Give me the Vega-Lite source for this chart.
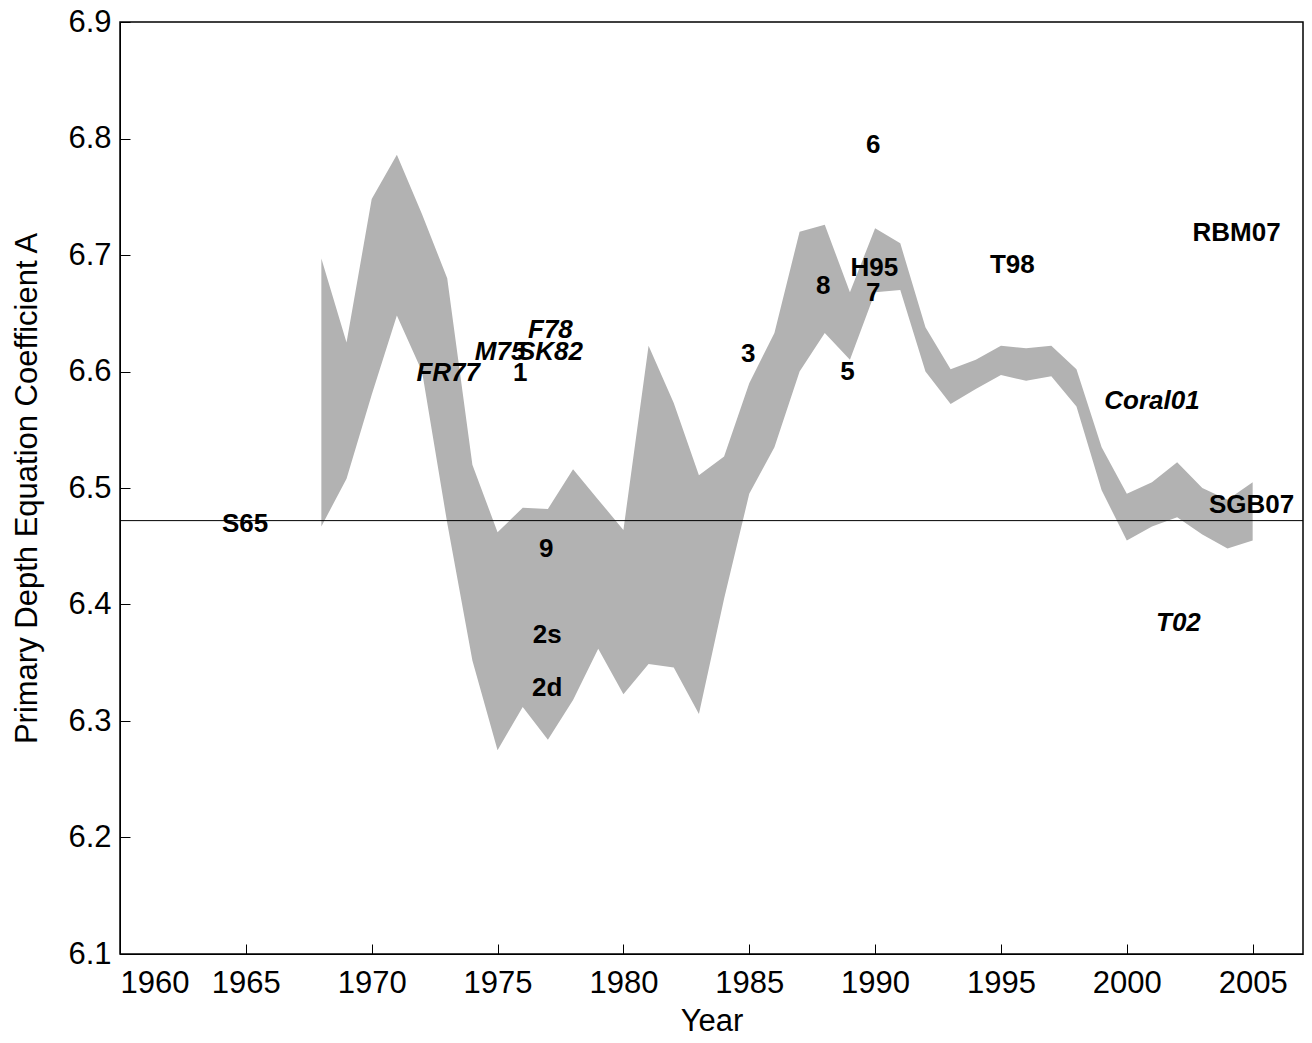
{
  "$schema": "https://vega.github.io/schema/vega-lite/v6.json",
  "width": 1183,
  "height": 932,
  "autosize": "none",
  "padding": {"left": 120, "top": 22, "right": 9, "bottom": 89},
  "config": {
    "view": {"stroke": "black", "strokeWidth": 1.5},
    "font": "Liberation Sans",
    "axis": {"grid": false, "domainColor": "black", "tickColor": "black", "labelColor": "black", "titleColor": "black", "labelFontSize": 31, "titleFontSize": 31, "titleFontWeight": "normal", "labelFont": "Liberation Sans", "titleFont": "Liberation Sans"}
  },
  "datasets": {
    "band": [
      {"year": 1968, "lo": 6.467, "hi": 6.697},
      {"year": 1969, "lo": 6.508, "hi": 6.625},
      {"year": 1970, "lo": 6.58, "hi": 6.748},
      {"year": 1971, "lo": 6.648, "hi": 6.786},
      {"year": 1972, "lo": 6.6, "hi": 6.735},
      {"year": 1973, "lo": 6.47, "hi": 6.68},
      {"year": 1974, "lo": 6.352, "hi": 6.52},
      {"year": 1975, "lo": 6.275, "hi": 6.462},
      {"year": 1976, "lo": 6.312, "hi": 6.483},
      {"year": 1977, "lo": 6.284, "hi": 6.482},
      {"year": 1978, "lo": 6.318, "hi": 6.516},
      {"year": 1979, "lo": 6.362, "hi": 6.49},
      {"year": 1980, "lo": 6.323, "hi": 6.464},
      {"year": 1981, "lo": 6.349, "hi": 6.622},
      {"year": 1982, "lo": 6.346, "hi": 6.573},
      {"year": 1983, "lo": 6.306, "hi": 6.511},
      {"year": 1984, "lo": 6.405, "hi": 6.527},
      {"year": 1985, "lo": 6.495, "hi": 6.59},
      {"year": 1986, "lo": 6.535, "hi": 6.633},
      {"year": 1987, "lo": 6.6, "hi": 6.72},
      {"year": 1988, "lo": 6.633, "hi": 6.726},
      {"year": 1989, "lo": 6.61, "hi": 6.668},
      {"year": 1990, "lo": 6.668, "hi": 6.723},
      {"year": 1991, "lo": 6.67, "hi": 6.71},
      {"year": 1992, "lo": 6.6, "hi": 6.638},
      {"year": 1993, "lo": 6.572, "hi": 6.602},
      {"year": 1994, "lo": 6.585, "hi": 6.61},
      {"year": 1995, "lo": 6.597, "hi": 6.622},
      {"year": 1996, "lo": 6.592, "hi": 6.62},
      {"year": 1997, "lo": 6.596, "hi": 6.622},
      {"year": 1998, "lo": 6.57, "hi": 6.602},
      {"year": 1999, "lo": 6.498, "hi": 6.535},
      {"year": 2000, "lo": 6.455, "hi": 6.495},
      {"year": 2001, "lo": 6.467, "hi": 6.505},
      {"year": 2002, "lo": 6.475, "hi": 6.522},
      {"year": 2003, "lo": 6.46, "hi": 6.5},
      {"year": 2004, "lo": 6.448, "hi": 6.49},
      {"year": 2005, "lo": 6.455, "hi": 6.505}
    ],
    "labels": [
      {"label": "S65", "year": 1964.97, "a": 6.469},
      {"label": "1", "year": 1975.9, "a": 6.599},
      {"label": "9", "year": 1976.93, "a": 6.448},
      {"label": "2s", "year": 1976.97, "a": 6.374},
      {"label": "2d", "year": 1976.97, "a": 6.328},
      {"label": "3", "year": 1984.96, "a": 6.615},
      {"label": "8", "year": 1987.94, "a": 6.673},
      {"label": "5", "year": 1988.9, "a": 6.6},
      {"label": "6", "year": 1989.93, "a": 6.794},
      {"label": "H95", "year": 1989.97, "a": 6.689},
      {"label": "7", "year": 1989.93, "a": 6.667},
      {"label": "T98", "year": 1995.45, "a": 6.691},
      {"label": "RBM07", "year": 2004.36, "a": 6.719},
      {"label": "SGB07", "year": 2004.96, "a": 6.485}
    ],
    "italic": [
      {"label": "FR77", "year": 1973.04, "a": 6.599},
      {"label": "M75", "year": 1975.1, "a": 6.617},
      {"label": "F78", "year": 1977.1, "a": 6.636},
      {"label": "SK82", "year": 1977.1, "a": 6.617},
      {"label": "Coral01", "year": 2001.0, "a": 6.575},
      {"label": "T02", "year": 2002.05, "a": 6.384}
    ],
    "ref": [{"a": 6.472}]
  },
  "layer": [
    {
      "data": {"name": "band"},
      "mark": {"type": "area", "color": "#b2b2b2", "opacity": 1},
      "encoding": {
        "x": {"field": "year", "type": "quantitative", "scale": {"domain": [1960, 2007], "nice": false}, "title": "Year", "axis": {"values": [1960, 1965, 1970, 1975, 1980, 1985, 1990, 1995, 2000, 2005], "format": "d", "tickSize": -10, "labelPadding": 24, "titlePadding": 8}},
        "y": {"field": "lo", "type": "quantitative", "scale": {"domain": [6.1, 6.9], "nice": false, "zero": false}, "title": "Primary Depth Equation Coefficient A", "axis": {"values": [6.1, 6.2, 6.3, 6.4, 6.5, 6.6, 6.7, 6.8, 6.9], "format": ".1f", "tickSize": -10, "labelPadding": 19, "titlePadding": 24}},
        "y2": {"field": "hi"}
      }
    },
    {
      "data": {"name": "ref"},
      "mark": {"type": "rule", "color": "black", "strokeWidth": 1},
      "encoding": {"y": {"field": "a", "type": "quantitative"}}
    },
    {
      "data": {"name": "labels"},
      "mark": {"type": "text", "fontSize": 26, "fontWeight": "bold", "color": "black", "align": "center", "baseline": "middle"},
      "encoding": {
        "x": {"field": "year", "type": "quantitative"},
        "y": {"field": "a", "type": "quantitative"},
        "text": {"field": "label"}
      }
    },
    {
      "data": {"name": "italic"},
      "mark": {"type": "text", "fontSize": 26, "fontWeight": "bold", "fontStyle": "italic", "color": "black", "align": "center", "baseline": "middle"},
      "encoding": {
        "x": {"field": "year", "type": "quantitative"},
        "y": {"field": "a", "type": "quantitative"},
        "text": {"field": "label"}
      }
    }
  ]
}
